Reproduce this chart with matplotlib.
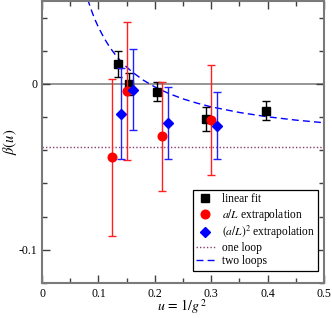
import matplotlib
matplotlib.use("Agg")
import matplotlib.pyplot as plt
from matplotlib.ticker import MultipleLocator, FuncFormatter

# ---- data ----
u_lin = [0.134, 0.1545, 0.204, 0.290, 0.3965]
b_lin = [0.0120, 0.0000, -0.0046, -0.0211, -0.0161]
e_lin = [0.0080, 0.0066, 0.0055, 0.0074, 0.0058]

u_aL = [0.1244, 0.1499, 0.2136, 0.2997]
b_aL = [-0.0442, -0.0045, -0.0316, -0.0217]
e_aL = [0.0472, 0.0416, 0.0327, 0.0330]

u_aL2 = [0.1393, 0.1605, 0.2242, 0.3102]
b_aL2 = [-0.0180, -0.0034, -0.0237, -0.0251]
e_aL2 = [0.0275, 0.0244, 0.0218, 0.0200]

one_loop = -0.0378

u_two = [0.075, 0.08, 0.085, 0.09, 0.095, 0.10, 0.11, 0.12, 0.13, 0.14, 0.15,
         0.16, 0.18, 0.20, 0.225, 0.25, 0.275, 0.30, 0.35, 0.40, 0.45, 0.50]
b_two = [0.0582, 0.0522, 0.0469, 0.0422, 0.0380, 0.0342, 0.0277, 0.0222,
         0.0176, 0.0136, 0.0102, 0.0072, 0.0022, -0.0018, -0.0058, -0.0090,
         -0.0116, -0.0138, -0.0172, -0.0198, -0.0218, -0.0234]

xticks = [0, 0.1, 0.2, 0.3, 0.4, 0.5]
yticks = [-0.1, 0]

plt.rcParams['font.family'] = ['Liberation Serif', 'DejaVu Serif']
plt.rcParams['mathtext.fontset'] = 'stix'
plt.rcParams['axes.unicode_minus'] = False

fig = plt.figure(figsize=(3.32, 3.18), dpi=100)
ax = fig.add_axes([42/332, 35/318, 282/332, 282/318])

ax.axhline(0, color='#8c8c8c', lw=1.3, zorder=1)
ax.axhline(one_loop, color='#8a3c70', lw=1.0, ls=(0, (1, 1.5)), zorder=1)
ax.plot(u_two, b_two, color='#0000ff', lw=1.0, ls=(0, (5, 3)), zorder=2)

ax.errorbar(u_lin, b_lin, yerr=e_lin, fmt='none', ecolor='black', elinewidth=1.0,
            capsize=3, capthick=1.0, zorder=3)
ax.plot(u_lin, b_lin, 's', color='black', ms=5.2, zorder=4)
ax.errorbar(u_aL, b_aL, yerr=e_aL, fmt='none', ecolor='#ff2020', elinewidth=1.0,
            capsize=3, capthick=1.0, zorder=5)
ax.plot(u_aL, b_aL, 'o', color='#ff0000', ms=6.2, zorder=6)
ax.errorbar(u_aL2, b_aL2, yerr=e_aL2, fmt='none', ecolor='#2020ff', elinewidth=1.0,
            capsize=3, capthick=1.0, zorder=7)
ax.plot(u_aL2, b_aL2, 'D', color='#0000ff', ms=4.6, zorder=8)

ax.set_xlim(0, 0.5)
ax.set_ylim(-0.12, 0.05)
ax.set_xticks(xticks)
ax.set_yticks(yticks)
ax.xaxis.set_minor_locator(MultipleLocator(0.05))
ax.yaxis.set_minor_locator(MultipleLocator(0.02))
fmt = FuncFormatter(lambda v, p: '%g' % round(v, 3))
ax.xaxis.set_major_formatter(fmt)
ax.yaxis.set_major_formatter(fmt)
ax.tick_params(which='both', direction='in', top=True, right=True,
               labelsize=8.5, colors='#404040', labelcolor='black')
ax.tick_params(which='major', length=5.5, width=1.0)
ax.tick_params(which='minor', length=3.5, width=1.0)
for s in ax.spines.values():
    s.set_color('#7a7a7a')
    s.set_linewidth(1.5)

ax.set_xlabel(r'$u\,=\,1/g^{\,2}$', fontsize=10)
ax.xaxis.set_label_coords(0.497, -0.085)
ax.xaxis.label.set_va('center')
ax.set_ylabel(r'$\tilde{\beta}(u)$', fontsize=10.5)
ax.yaxis.set_label_coords(-0.115, 0.5)
ax.yaxis.label.set_va('center')

h1, = ax.plot([], [], 's', color='black', ms=5.2)
h2, = ax.plot([], [], 'o', color='#ff0000', ms=6.2)
h3, = ax.plot([], [], 'D', color='#0000ff', ms=4.6)
h4, = ax.plot([], [], color='#8a3c70', lw=1.0, ls=(0, (1, 1.5)))
h5, = ax.plot([], [], color='#0000ff', lw=1.0, ls=(0, (5, 3)))
leg = ax.legend([h1, h2, h3, h4, h5],
                ['linear fit', r'$a/L$ extrapolation', r'$(a/L)^2$ extrapolation',
                 'one loop', 'two loops'],
                loc='upper right', bbox_to_anchor=(0.979, 0.33), borderaxespad=0,
                fontsize=8.3, frameon=True, fancybox=False, framealpha=1,
                edgecolor='black', handlelength=1.6, handletextpad=0.6,
                labelspacing=0.1, borderpad=0.3)
leg.get_frame().set_linewidth(0.9)

fig.savefig('out.png', dpi=100)
